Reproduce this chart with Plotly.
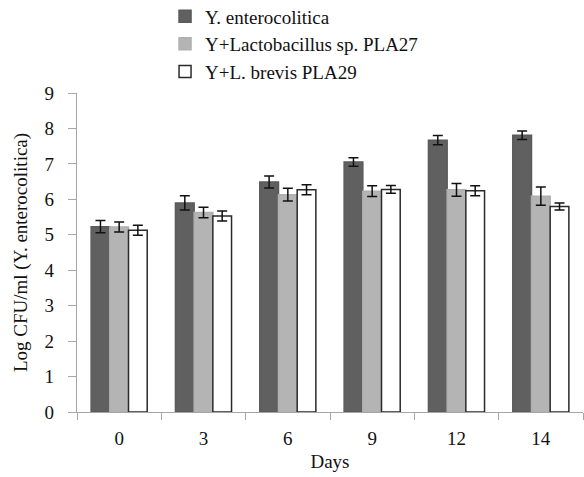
import plotly.graph_objects as go

days = ["0", "3", "6", "9", "12", "14"]
series_names = ["Y. enterocolitica", "Y+Lactobacillus sp. PLA27", "Y+L. brevis PLA29"]
y_entero = [5.23, 5.9, 6.49, 7.05, 7.67, 7.81]
y_entero_err = [0.17, 0.2, 0.17, 0.12, 0.13, 0.12]
y_pla27 = [5.22, 5.63, 6.13, 6.23, 6.27, 6.09]
y_pla27_err = [0.14, 0.15, 0.18, 0.15, 0.18, 0.26]
y_pla29 = [5.13, 5.53, 6.27, 6.28, 6.24, 5.8]
y_pla29_err = [0.14, 0.14, 0.14, 0.11, 0.14, 0.1]
y_ticks = [0, 1, 2, 3, 4, 5, 6, 7, 8, 9]

values = [y_entero, y_pla27, y_pla29]
errors = [y_entero_err, y_pla27_err, y_pla29_err]
fills = ["#606060", "#b4b4b4", "#ffffff"]
lines = ["#5a5a5a", "#b0b0b0", "#2a2a2a"]

font = "Liberation Serif, Times New Roman, serif"
fs = 19
fig = go.Figure()
for i in range(3):
    fig.add_trace(go.Bar(
        x=days, y=values[i], name=series_names[i],
        legendgroup=f"g{i}",
        marker=dict(color=fills[i], line=dict(color=lines[i], width=1.5)),
        error_y=dict(type="data", array=errors[i], color="#111111", thickness=1.5, width=5),
    ))

fig.update_layout(
    width=584, height=477,
    margin=dict(l=77, r=1, t=93, b=65, autoexpand=False),
    paper_bgcolor="white", plot_bgcolor="white",
    barmode="group", bargap=0.335, bargroupgap=0,
    font=dict(family=font, size=fs, color="#111111"),
    legend=dict(x=0.174, y=1.30, xanchor="left", yanchor="top",
                font=dict(family=font, size=fs, color="#111111"),
                tracegroupgap=0, itemwidth=30, bgcolor="rgba(0,0,0,0)"),
    showlegend=True,
)
fig.update_xaxes(
    type="category", showline=True, linecolor="#a6a6a6", linewidth=1.3,
    ticks="outside", tickson="boundaries", ticklen=7, tickcolor="#a6a6a6",
    showgrid=False, automargin=False,
    title=dict(text="Days", font=dict(family=font, size=fs), standoff=6),
    tickfont=dict(family=font, size=fs), ticklabelstandoff=9,
)
fig.update_yaxes(
    range=[0, 9], tickvals=y_ticks, showline=True, linecolor="#a6a6a6", linewidth=1.3,
    ticks="outside", ticklen=8, tickcolor="#a6a6a6", showgrid=False, zeroline=False,
    automargin=False,
    title=dict(text="Log CFU/ml (Y. enterocolitica)", font=dict(family=font, size=fs), standoff=11),
    tickfont=dict(family=font, size=fs), ticklabelstandoff=10,
)
fig.write_html("out.html", config={"displayModeBar": False},
               post_script="document.body.style.margin='0';")
